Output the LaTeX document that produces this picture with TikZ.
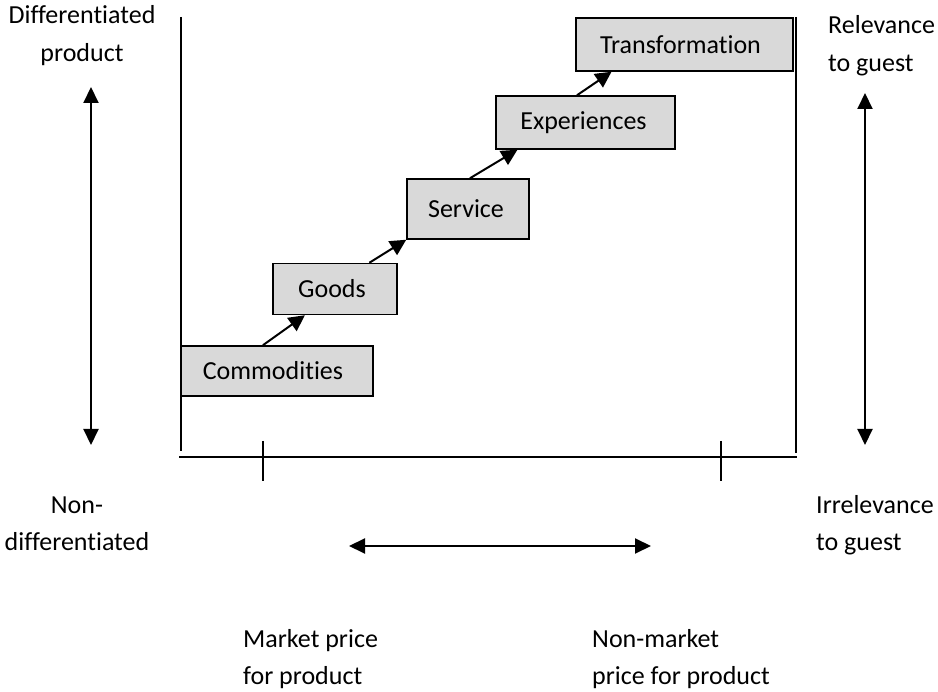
\documentclass[tikz,border=0pt]{standalone}
\usepackage{fontspec}
\setmainfont[Ligatures=NoCommon]{Carlito}
\usetikzlibrary{arrows.meta,calc}
\definecolor{boxgray}{RGB}{217,217,217}
\tikzset{
  stage/.style={draw=black,line width=1.5pt,fill=boxgray,inner sep=0pt,minimum height=52pt,font=\fontsize{26}{37}\selectfont},
  lbl/.style={inner sep=0pt,font=\fontsize{26}{37}\selectfont},
  axis/.style={line width=2pt},
  conn/.style={line width=2pt,-{Triangle[length=16pt,width=16pt]}},
  dbl/.style={line width=2pt,{Triangle[length=16pt,width=15pt]}-{Triangle[length=16pt,width=15pt]}}
}
\begin{document}
\begin{tikzpicture}[x=1pt,y=-1pt]
\useasboundingbox (0,0) rectangle (938,692);
% axes
\coordinate (lt) at (181,17);
\coordinate (lb) at (181,451);
\coordinate (rt) at (796,17);
\coordinate (rb) at (796,453);
\coordinate (ax1) at (179,457);
\coordinate (ax2) at (797,457);
\coordinate (t1a) at (263,441);
\coordinate (t1b) at (263,481);
\coordinate (t2a) at (721,441);
\coordinate (t2b) at (721,481);
\draw[axis] (lt) -- (lb);
\draw[axis] (rt) -- (rb);
\draw[axis] (ax1) -- (ax2);
\draw[line width=1.5pt] (t1a) -- (t1b);
\draw[line width=1.5pt] (t2a) -- (t2b);
% stages
\node[stage,minimum width=192pt,minimum height=50pt] (com) at (277,371) {\hspace*{-8pt}Commodities};
\node[stage,minimum width=124pt,minimum height=51pt] (goo) at (335,289) {\hspace*{-6pt}Goods};
\node[stage,minimum width=122pt,minimum height=60pt] (ser) at (468,209) {\hspace*{-4pt}Service};
\node[stage,minimum width=179pt,minimum height=53pt] (exp) at (585.5,122.5) {\hspace*{-4pt}Experiences};
\node[stage,minimum width=217pt,minimum height=53pt] (tra) at (684.5,44.5) {\hspace*{-8pt}Transformation};
% connectors
\draw[conn] ($(com.north west)!0.427!(com.north east)$) -- ($(goo.south west)!0.26!(goo.south east)$);
\draw[conn] ($(goo.north west)!0.774!(goo.north east)$) -- (ser.south west);
\draw[conn] ($(ser.north west)!0.516!(ser.north east)$) -- ($(exp.south west)!0.123!(exp.south east)$);
\draw[conn] ($(exp.north west)!0.453!(exp.north east)$) -- ($(tra.south west)!0.166!(tra.south east)$);
% double arrows
\coordinate (la1) at (91,87);
\coordinate (la2) at (91,445);
\coordinate (ra1) at (865,93);
\coordinate (ra2) at (865,445);
\coordinate (ba1) at (349,546);
\coordinate (ba2) at (651,546);
\draw[dbl] (la1) -- (la2);
\draw[dbl] (ra1) -- (ra2);
\draw[dbl] (ba1) -- (ba2);
% labels
\node[lbl,anchor=base] (d1) at (82,24) {Differentiated};
\node[lbl,anchor=base] (d2) at (82,62) {product};
\node[lbl,anchor=base] (n1) at (77,514) {Non-};
\node[lbl,anchor=base] (n2) at (77,551) {differentiated};
\node[lbl,anchor=base west] (r1) at (828,34) {Relevance};
\node[lbl,anchor=base west] (r2) at (828,72) {to guest};
\node[lbl,anchor=base west] (i1) at (816,514) {Irrelevance};
\node[lbl,anchor=base west] (i2) at (816,551) {to guest};
\node[lbl,anchor=base west] (m1) at (243,647) {Market price};
\node[lbl,anchor=base west] (m2) at (243,684) {for product};
\node[lbl,anchor=base west] (nm1) at (592,647) {Non-market};
\node[lbl,anchor=base west] (nm2) at (592,684) {price for product};
\end{tikzpicture}
\end{document}
